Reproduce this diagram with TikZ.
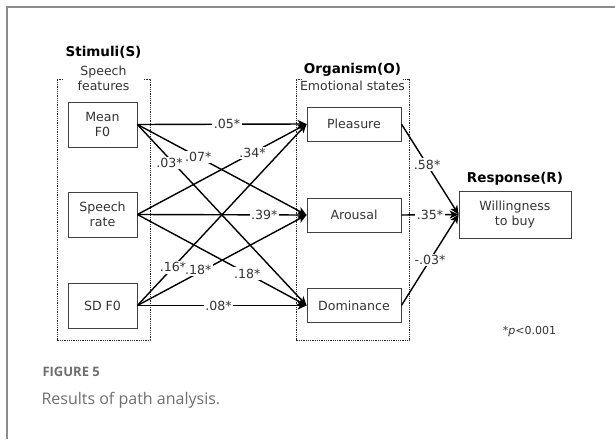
\documentclass[tikz,border=0pt]{standalone}
\usepackage{fontspec}
\setmainfont{DejaVu Sans}
\newfontfamily\capfont{Open Sans}
\usetikzlibrary{arrows.meta}

\definecolor{txtgray}{HTML}{333333}
\definecolor{capgray}{HTML}{6E6E6E}
\definecolor{framegray}{HTML}{8C8C8C}

\tikzset{
	varbox/.style={draw=black!75, line width=0.8pt, align=center, text=txtgray,
		font=\fontsize{12.6}{15}\selectfont, inner sep=0pt},
	header/.style={font=\fontsize{13.5}{15}\selectfont\bfseries, text=black},
	sublabel/.style={align=center, text=txtgray, font=\fontsize{12.5}{15}\selectfont},
	link/.style={line width=1.4pt, -{Stealth[length=9pt,width=8pt,inset=2.5pt]}},
	coef/.style={fill=white, inner sep=1.5pt, text=txtgray, font=\fontsize{12.6}{14}\selectfont},
	bracket/.style={densely dotted, line width=0.8pt, black!85}
}

\begin{document}
\begin{tikzpicture}[x=1pt, y=-1pt]
		\useasboundingbox (0,0) rectangle (615,439);
		
		% Frame
		\draw[framegray, line width=1.5pt] (7,439) -- (7,7) -- (615,7);
		
		% Headers
		\node[header] (stimhead) at (103.5,52) {Stimuli(S)};
		\node[sublabel] (stimsub) at (103.5,78) {Speech\\features};
		\node[header] (orghead) at (352.5,70) {Organism(O)};
		\node[sublabel] (orgsub) at (352.5,86) {Emotional states};
		\node[header] (resphead) at (515,179) {Response(R)};
		
		% Brackets
		\draw[bracket] (63,79) -- (57,79) -- (57,340) -- (150,340) -- (150,79) -- (144,79);
		\draw[bracket] (302,79) -- (296,79) -- (296,340) -- (409,340) -- (409,79) -- (403,79);
		
		% Stimuli
		\node[varbox, minimum width=69pt, minimum height=45pt] (meanf0) at (102.5,124.5) {Mean\\F0};
		\node[varbox, minimum width=69pt, minimum height=45pt] (rate) at (102.5,214.5) {Speech\\rate};
		\node[varbox, minimum width=69pt, minimum height=45pt] (sdf0) at (102.5,305.5) {SD F0};
		
		% Organism
		\node[varbox, minimum width=94pt, minimum height=34pt] (pleasure) at (354,124) {Pleasure};
		\node[varbox, minimum width=94pt, minimum height=34pt] (arousal) at (354,215) {Arousal};
		\node[varbox, minimum width=94pt, minimum height=34pt] (dominance) at (354,305.5) {Dominance};
		
		% Response
		\node[varbox, minimum width=112pt, minimum height=47pt] (buy) at (515,214.5) {Willingness\\to buy};
		
		% Paths S -> O
		\draw[link] (meanf0.east) -- (pleasure.west) node[coef, pos=0.53] {.05*};
		\draw[link] (meanf0.east) -- (arousal.west) node[coef, pos=0.36] {.07*};
		\draw[link] (meanf0.east) -- (dominance.west) node[coef, pos=0.19, yshift=-4pt] {.03*};
		\draw[link] (rate.east) -- (pleasure.west) node[coef, pos=0.68] {.34*};
		\draw[link] (rate.east) -- (arousal.west) node[coef, pos=0.75] {.39*};
		\draw[link] (rate.east) -- (dominance.west) node[coef, pos=0.65] {.18*};
		\draw[link] (sdf0.east) -- (pleasure.west) node[coef, pos=0.21] {.16*};
		\draw[link] (sdf0.east) -- (arousal.west) node[coef, pos=0.36, yshift=3pt] {.18*};
		\draw[link] (sdf0.east) -- (dominance.west) node[coef, pos=0.48] {.08*};
		
		% Paths O -> R
		\draw[link] (pleasure.east) -- (buy.west) node[coef, pos=0.45] {.58*};
		\draw[link] (arousal.east) -- (buy.west) node[coef, pos=0.5] {.35*};
		\draw[link] (dominance.east) -- (buy.west) node[coef, pos=0.5] {-.03*};
		
		% Note
		\node[text=txtgray, font=\fontsize{11}{13}\selectfont] (note) at (529.5,332) {*\textit{p}<0.001};
		
		% Caption
		\node[anchor=west, text=capgray, font=\capfont\fontsize{13}{15}\selectfont\bfseries] (figno) at (39,372) {FIGURE 5};
		\node[anchor=west, text=capgray, font=\capfont\fontsize{16}{19}\selectfont] (figcap) at (38,400) {Results of path analysis.};
	\end{tikzpicture}
\end{document}
